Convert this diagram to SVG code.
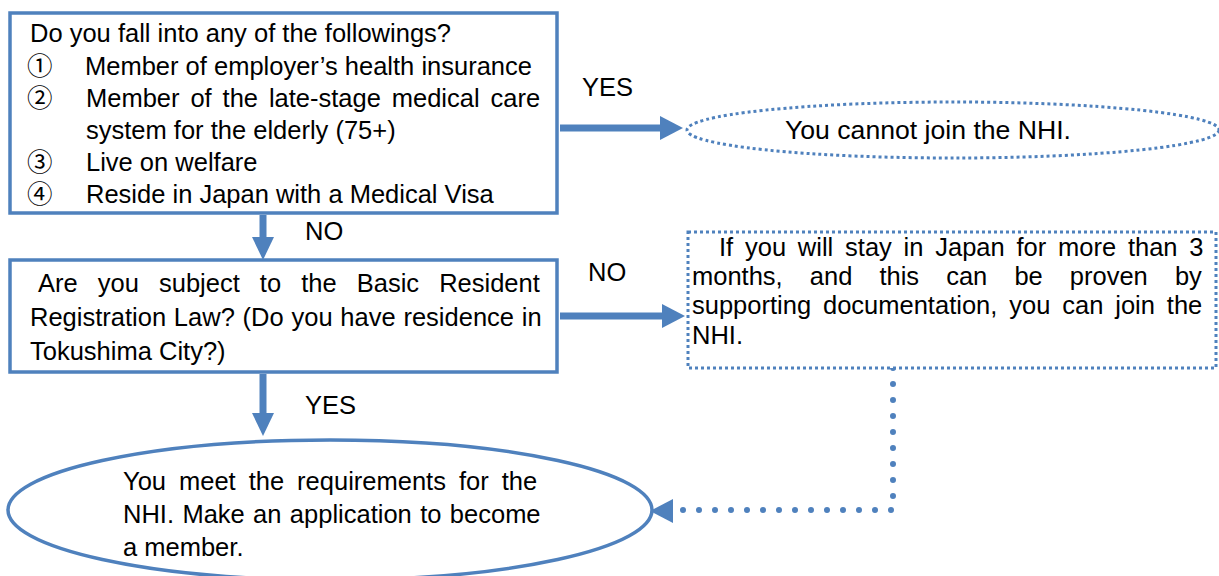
<svg xmlns="http://www.w3.org/2000/svg" width="1219" height="576" viewBox="0 0 1219 576">
<style>
text{font-family:"Liberation Sans","Noto Sans CJK JP",sans-serif;font-size:25.5px;fill:#000}
.solid{fill:#fff;stroke:#4F81BD;stroke-width:3.5}
.dotted{fill:#fff;stroke:#4F81BD;stroke-width:3;stroke-dasharray:3 3}
.shaft{stroke:#4F81BD;stroke-width:7;fill:none}
.head{fill:#4F81BD}
.dots{stroke:#4F81BD;stroke-width:6;fill:none;stroke-linecap:round;stroke-dasharray:0 16}
</style>
<rect width="1219" height="576" fill="#fff"/>
<g id="connectors">
<line class="shaft" x1="560" y1="128" x2="662" y2="128"/>
<polygon class="head" points="660,116 683,128 660,140"/>
<line class="shaft" x1="263" y1="215" x2="263" y2="238"/>
<polygon class="head" points="252,237 263,260 274,237"/>
<line class="shaft" x1="560" y1="316" x2="664" y2="316"/>
<polygon class="head" points="662,304 685,316 662,328"/>
<line class="shaft" x1="263" y1="374" x2="263" y2="414"/>
<polygon class="head" points="252,413 263,436 274,413"/>
<path class="dots" d="M893,368 V510 H674"/>
<polygon class="head" points="673,499 650,511 673,523"/>
<text x="582" y="96">YES</text>
<text x="305" y="240">NO</text>
<text x="588" y="281">NO</text>
<text x="305" y="414">YES</text>
</g>
<g id="node-q1">
<rect class="solid" x="10" y="13" width="547" height="200"/>
<text x="30" y="42">Do you fall into any of the followings?</text>
<text x="27" y="75">①</text>
<text x="85" y="75">Member of employer’s health insurance</text>
<text x="27" y="107">②</text>
<text x="86" y="107" word-spacing="3.8">Member of the late-stage medical care</text>
<text x="86" y="139">system for the elderly (75+)</text>
<text x="27" y="171">③</text>
<text x="86" y="171">Live on welfare</text>
<text x="27" y="203">④</text>
<text x="86" y="203">Reside in Japan with a Medical Visa</text>
</g>
<g id="node-cannot">
<ellipse class="dotted" cx="953" cy="130" rx="266" ry="28"/>
<text x="785" y="139" textLength="286" lengthAdjust="spacingAndGlyphs">You cannot join the NHI.</text>
</g>
<g id="node-q2">
<rect class="solid" x="10" y="260" width="547" height="112"/>
<text x="38" y="292" word-spacing="13">Are you subject to the Basic Resident</text>
<text x="30" y="326" word-spacing="0.7">Registration Law? (Do you have residence in</text>
<text x="30" y="360">Tokushima City?)</text>
</g>
<g id="node-stay">
<rect class="dotted" x="688" y="232" width="528" height="136"/>
<text x="719" y="256" word-spacing="4.7">If you will stay in Japan for more than 3</text>
<text x="692" y="285" word-spacing="20">months, and this can be proven by</text>
<text x="692" y="314" word-spacing="4.8">supporting documentation, you can join the</text>
<text x="692" y="344">NHI.</text>
</g>
<g id="node-meet">
<ellipse class="solid" cx="330" cy="510" rx="322" ry="70"/>
<text x="123" y="490" word-spacing="5.9">You meet the requirements for the</text>
<text x="123" y="523" word-spacing="1.3">NHI. Make an application to become</text>
<text x="123" y="556">a member.</text>
</g>
</svg>
